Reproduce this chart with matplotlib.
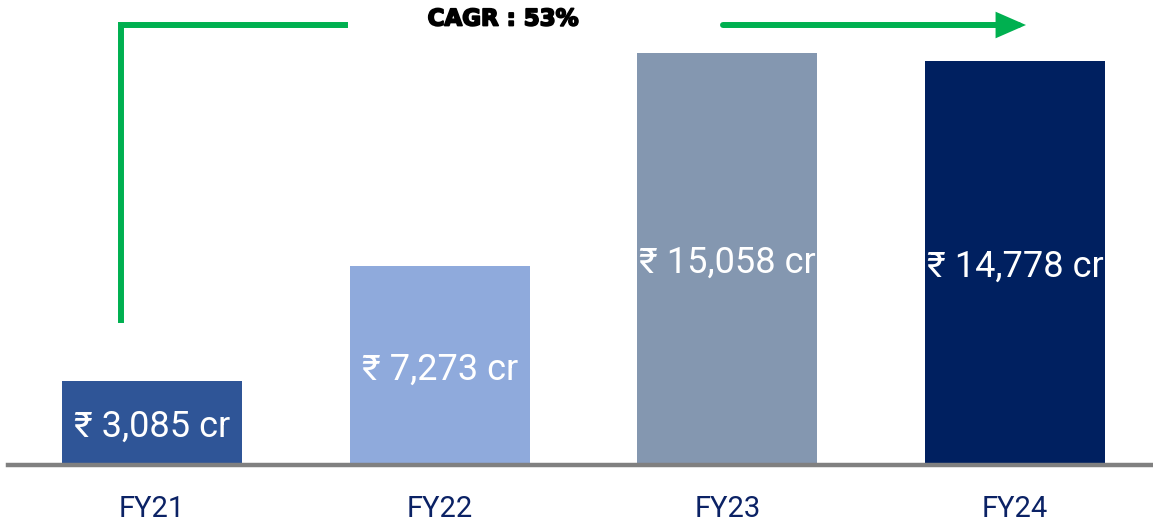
import matplotlib
matplotlib.use("Agg")
import matplotlib.pyplot as plt
import matplotlib.patheffects as pe
from matplotlib.patches import FancyArrowPatch

categories = ["FY21", "FY22", "FY23", "FY24"]
values = [3085, 7273, 15058, 14778]
value_labels = ["₹ 3,085 cr", "₹ 7,273 cr", "₹ 15,058 cr", "₹ 14,778 cr"]
bar_colors = ["#2f5597", "#8faadc", "#8497b0", "#002060"]
cagr_text = "CAGR : 53%"

W, H = 1153, 524
fig = plt.figure(figsize=(W / 100, H / 100), dpi=100)
ax = fig.add_axes([0, 0, 1, 1])
ax.set_axis_off()

x = list(range(len(categories)))
ax.bar(x, values, width=0.626, color=bar_colors, zorder=2)
ax.set_xlim(-0.528, 3.479)
ax.set_ylim(-2156, 16996)

fam = ["Roboto", "DejaVu Sans"]
for xi, v, lab in zip(x, values, value_labels):
    ax.text(xi, v / 2 - 150, lab, ha="center", va="center", color="white",
            fontsize=26, family=fam, zorder=3)

# baseline
ax.axhline(0, xmin=8 / W, xmax=1, color="#808080", lw=3.2, zorder=4)

# category labels
for xi, c in zip(x, categories):
    ax.text(xi, -1620, c, ha="center", va="center", color="#0b2265",
            fontsize=21, family=fam)

# CAGR arrow (figure pixel coords)
def fx(px):
    return px / W

def fy(py):
    return 1 - py / H

green = "#00b050"
fig.add_artist(plt.Line2D([fx(121), fx(121), fx(345)],
                          [fy(320), fy(25), fy(25)],
                          color=green, lw=4.3, solid_joinstyle="miter",
                          transform=fig.transFigure))
arr = FancyArrowPatch((fx(723), fy(25)), (fx(1026), fy(25)),
                      transform=fig.transFigure, color=green,
                      arrowstyle="-|>,head_length=0.8,head_width=0.35",
                      lw=4.3, mutation_scale=18, shrinkA=0, shrinkB=0,
                      joinstyle="miter")
fig.add_artist(arr)
fig.text(fx(503), fy(19), cagr_text, ha="center", va="center",
         fontsize=16.5, fontweight="bold", family="DejaVu Sans",
         color="black",
         path_effects=[pe.withStroke(linewidth=1.3, foreground="black")])

fig.savefig("out.png", dpi=100)
